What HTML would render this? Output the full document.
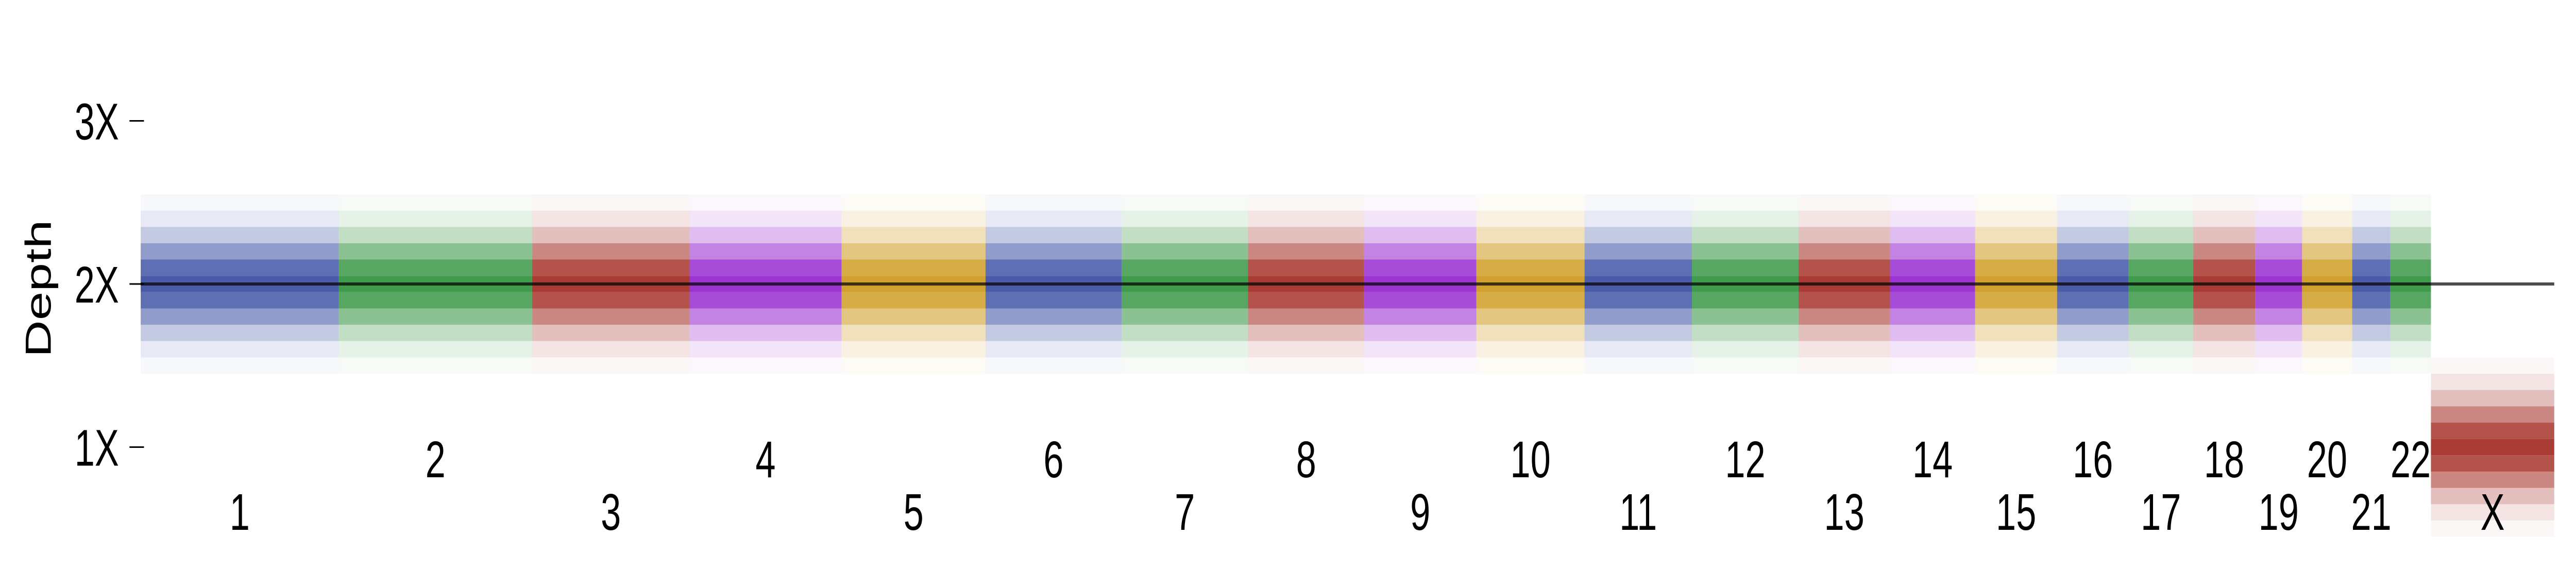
<!DOCTYPE html>
<html><head><meta charset="utf-8"><style>
html,body{margin:0;padding:0;background:#fff;width:100%;height:100%;overflow:hidden;}
svg{display:block;width:100vw;height:100vh;font-family:"Liberation Sans","DejaVu Sans",sans-serif;}
</style></head><body>
<svg id="chart" viewBox="0 0 7103 1104" preserveAspectRatio="none" xmlns="http://www.w3.org/2000/svg">
<g id="cells"></g>
<g id="axis"></g>
<g id="xlabels"></g>
<text x="0" y="0" font-size="100" text-anchor="middle" transform="translate(140,560) rotate(-90)">Depth</text>
</svg>
<script>
const chromNames = ["1","2","3","4","5","6","7","8","9","10","11","12","13","14","15","16","17","18","19","20","21","22","X"];
const chromLengths = [249,243,198,191,181,171,159,146,141,136,135,134,115,107,103,90,81,78,59,63,48,51,155];
const chromMeanDepth = [2,2,2,2,2,2,2,2,2,2,2,2,2,2,2,2,2,2,2,2,2,2,1];
const chromSpread = [0.2,0.2,0.2,0.2,0.2,0.2,0.2,0.2,0.2,0.2,0.2,0.2,0.2,0.2,0.2,0.2,0.2,0.2,0.2,0.2,0.2,0.2,0.2];
const yTicks = [1,2,3];
const yTickLabels = ["1X","2X","3X"];
const refDepth = 2;

const NS="http://www.w3.org/2000/svg";
const palette=["#2a3f9a","#1f8a2e","#9a1a10","#8a10c8","#c8900a"];
const x0=388, x1=7043;
const total=chromLengths.reduce((a,b)=>a+b,0);
const xs=mb=>x0+(x1-x0)*mb/total;
const ys=v=>551-(v-2)*316.5;
const binW=0.1;
function mk(tag,attrs,parent){const e=document.createElementNS(NS,tag);for(const k in attrs)e.setAttribute(k,attrs[k]);parent.appendChild(e);return e;}

const cells=document.getElementById('cells');
const xl=document.getElementById('xlabels');
let cum=0;
chromNames.forEach((name,i)=>{
  const a=xs(cum), b=xs(cum+chromLengths[i]); cum+=chromLengths[i];
  const g=mk('g',{},cells);
  
  
  const m=chromMeanDepth[i], sd=chromSpread[i], col=palette[i%5];
  for(let k=-7;k<=7;k++){
    const c=m+k*binW;
    const op=0.85*Math.exp(-0.5*Math.pow((k*binW)/sd,2));
    if(op<0.01)continue;
    const r=mk('rect',{x:a,y:ys(c+binW/2),width:b-a,height:ys(c-binW/2)-ys(c+binW/2),fill:col,'fill-opacity':op.toFixed(3)},g);
    
    
  }
  const lower = (i%2===0);
  const t=mk('text',{x:(a+b)/2,y:lower?1028:926,'font-size':100,'text-anchor':'middle',fill:'#000'},xl);
  t.textContent=name;
  
  
});
const ref=mk('line',{x1:x0,x2:x1,y1:ys(refDepth),y2:ys(refDepth),stroke:'#000','stroke-opacity':0.7,'stroke-width':6},cells);



const ax=document.getElementById('axis');
yTicks.forEach((v,i)=>{
  const l=mk('line',{x1:357,x2:397,y1:ys(v),y2:ys(v),stroke:'#000','stroke-width':3},ax);
  
  
  const t=mk('text',{x:328,y:ys(v)+36,'font-size':100,'text-anchor':'end',fill:'#000'},ax);
  t.textContent=yTickLabels[i];
  
  
});
</script>
</body></html>
